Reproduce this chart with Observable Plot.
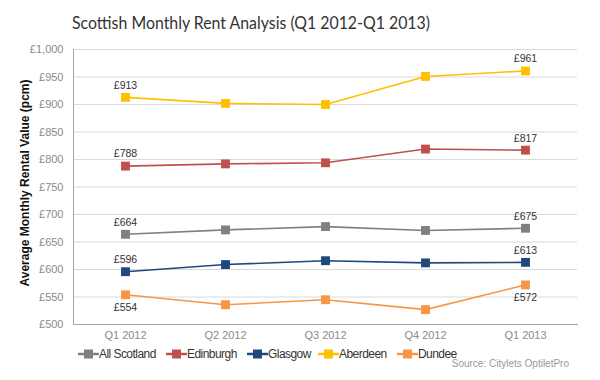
<!DOCTYPE html>
<html>
<head>
<meta charset="utf-8">
<script src="https://cdn.jsdelivr.net/npm/d3@7"></script>
<script src="https://cdn.jsdelivr.net/npm/@observablehq/plot@0.6"></script>
<style>
  html, body { margin: 0; padding: 0; background: #fff; }
  #chart { width: 600px; height: 380px; }
</style>
</head>
<body>
<div id="chart"></div>
<script>
const quarters = ["Q1 2012", "Q2 2012", "Q3 2012", "Q4 2012", "Q1 2013"];
const seriesNames = ["All Scotland", "Edinburgh", "Glasgow", "Aberdeen", "Dundee"];
const allScotland = [664, 672, 678, 671, 675];
const edinburgh   = [788, 792, 794, 819, 817];
const glasgow     = [596, 609, 616, 612, 613];
const aberdeen    = [913, 902, 900, 951, 961];
const dundee      = [554, 536, 545, 527, 572];
const seriesColors = ["#808080", "#C0504D", "#1F497D", "#FFC000", "#F79646"];
const yTicks = [500, 550, 600, 650, 700, 750, 800, 850, 900, 950, 1000];

const valuesBySeries = [allScotland, edinburgh, glasgow, aberdeen, dundee];
const data = [];
seriesNames.forEach((s, i) => {
  quarters.forEach((q, j) => {
    data.push({series: s, quarter: q, value: valuesBySeries[i][j], idx: j});
  });
});
const labelled = data.filter(d => d.idx === 0 || d.idx === quarters.length - 1);
const fmt = d => "£" + d3.format(",")(d);

const chart = Plot.plot({
  width: 600,
  height: 380,
  marginLeft: 73,
  marginRight: 23,
  marginTop: 49,
  marginBottom: 56,
  style: {fontFamily: "Liberation Sans, Arial, sans-serif", background: "#fff"},
  x: {type: "point", domain: quarters, padding: 0.5, label: null},
  y: {domain: [500, 1000], label: null},
  color: {domain: seriesNames, range: seriesColors},
  marks: [
    Plot.gridY(yTicks, {stroke: "#d9d9d9", strokeOpacity: 1}),
    Plot.axisY(yTicks, {tickSize: 0, tickPadding: 10, tickFormat: fmt, fill: "#8a8a8a", fontSize: 11, label: null}),
    Plot.axisX({tickSize: 0, tickPadding: 7, fill: "#8a8a8a", fontSize: 11, label: null}),
    Plot.frame({anchor: "left", stroke: "#a6a6a6"}),
    Plot.frame({anchor: "bottom", stroke: "#a6a6a6"}),
    Plot.line(data, {x: "quarter", y: "value", z: "series", stroke: "series", strokeWidth: 1.6}),
    Plot.dot(data, {x: "quarter", y: "value", fill: "series", symbol: "square", r: 5, stroke: "none"}),
    Plot.text(labelled.filter(d => d.series !== "Dundee"), {x: "quarter", y: "value", text: d => fmt(d.value), dy: -12, fill: "#333", fontSize: 10.5}),
    Plot.text(labelled.filter(d => d.series === "Dundee"), {x: "quarter", y: "value", text: d => fmt(d.value), dy: 13, fill: "#333", fontSize: 10.5})
  ]
});

document.getElementById("chart").appendChild(chart);

const svg = d3.select(chart);
svg.append("text")
  .attr("x", 72).attr("y", 29)
  .attr("text-anchor", "start")
  .attr("font-family", "Lato, Roboto, sans-serif")
  .attr("font-size", 17.5)
  .attr("textLength", 358)
  .attr("lengthAdjust", "spacingAndGlyphs")
  .attr("fill", "#333")
  .text("Scottish Monthly Rent Analysis (Q1 2012-Q1 2013)");

svg.append("text")
  .attr("transform", "translate(29,183) rotate(-90)")
  .attr("text-anchor", "middle")
  .attr("font-family", "Liberation Sans, Arial, sans-serif")
  .attr("font-weight", "bold")
  .attr("font-size", 12)
  .attr("fill", "#111")
  .text("Average Monthly Rental Value (pcm)");

const legendX = [78, 166, 247, 318, 397];
const lg = svg.append("g").attr("font-family", "Liberation Sans, Arial, sans-serif").attr("font-size", 12).attr("text-anchor", "start");
seriesNames.forEach((s, i) => {
  const g = lg.append("g").attr("transform", `translate(${legendX[i]},354)`);
  g.append("line").attr("x1", 0).attr("x2", 21).attr("y1", 0).attr("y2", 0)
    .attr("stroke", seriesColors[i]).attr("stroke-width", 2.5);
  g.append("rect").attr("x", 6).attr("y", -4.5).attr("width", 9).attr("height", 9).attr("fill", seriesColors[i]);
  g.append("text").attr("x", 21).attr("y", 4.3).attr("fill", "#333").attr("text-anchor", "start")
    .attr("letter-spacing", -0.55).text(s);
});

svg.append("text")
  .attr("x", 569).attr("y", 367)
  .attr("text-anchor", "end")
  .attr("font-family", "Liberation Sans, Arial, sans-serif")
  .attr("font-size", 10)
  .attr("fill", "#999")
  .text("Source: Citylets OptiletPro");
</script>
</body>
</html>
